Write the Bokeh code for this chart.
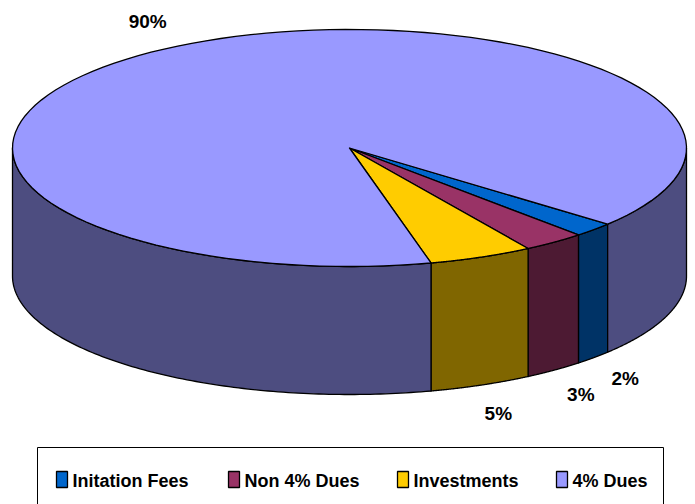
import numpy as np
from bokeh.plotting import figure
from bokeh.models import Range1d
from bokeh.core.properties import value
from bokeh.embed import file_html
from bokeh.resources import INLINE

# ---- data ----
categories = ["Initation Fees", "Non 4% Dues", "Investments", "4% Dues"]
values = [2, 3, 5, 90]
pct_labels = ["2%", "3%", "5%", "90%"]
top_colors = ["#0066CC", "#993366", "#FFCC00", "#9999FF"]
side_colors = ["#003366", "#4D1A33", "#806600", "#4D4D80"]

# ---- geometry / layout ----
W, H = 695, 504
CX, CY = 349.0, 147.5
RX, RY = 337.0, 118.5
DEPTH = 128.0
START = 40.0
FONT = value("Liberation Sans")

total = float(sum(values))
edges = START + 360.0 * np.concatenate([[0], np.cumsum(values)]) / total


def arc(a0, a1, dy=0.0, n=120):
    t = np.radians(np.linspace(a0, a1, n))
    return list(CX + RX * np.cos(t)), list(CY + dy + RY * np.sin(t))


p = figure(width=W, height=H, x_range=Range1d(0, W), y_range=Range1d(H, 0),
           x_axis_type=None, y_axis_type=None, toolbar_location=None,
           output_backend="svg", min_border=0)
p.outline_line_color = None
p.grid.visible = False
p.background_fill_color = "white"

# side walls
sx, sy, sc = [], [], []
for i in range(len(values)):
    a0, a1 = edges[i], edges[i + 1]
    for k in (0.0, 360.0):
        lo, hi = max(a0, k), min(a1, k + 180.0)
        if hi > lo:
            tx, ty = arc(lo, hi)
            bx, by = arc(hi, lo, DEPTH)
            sx.append(tx + bx)
            sy.append(ty + by)
            sc.append(side_colors[i])
p.patches(xs=sx, ys=sy, fill_color=sc, line_color="black", line_width=1.3, line_join="round")

# top wedges
wx, wy = [], []
for i in range(len(values)):
    tx, ty = arc(edges[i], edges[i + 1])
    wx.append([CX] + tx)
    wy.append([CY] + ty)
p.patches(xs=wx, ys=wy, fill_color=top_colors, line_color="black", line_width=1.3, line_join="round")

# percentage labels
mids = np.radians((edges[:-1] + edges[1:]) / 2.0)
lx = CX + 1.13 * RX * np.cos(mids)
ly = CY + 1.26 * RY * np.sin(mids) + np.where(np.sin(mids) > 0, DEPTH, 0.0)
p.text(x=list(lx), y=list(ly), text=pct_labels, text_font=FONT, text_font_style="bold",
       text_font_size="19px", text_align="center", text_baseline="middle", text_color="black")

# legend (manual)
LEG_L, LEG_R, LEG_T, LEG_B = 37, 663, 447, 530
p.quad(left=[LEG_L], right=[LEG_R], top=[LEG_T], bottom=[LEG_B], fill_color="white",
       line_color="black", line_width=1)
legend_x = [56, 228, 397, 556]
sw = 11
p.quad(left=legend_x, right=[x + sw for x in legend_x], top=[471] * 4, bottom=[487] * 4,
       fill_color=top_colors, line_color="black", line_width=1.3)
p.text(x=[x + sw + 5 for x in legend_x], y=[480] * 4, text=categories, text_font=FONT,
       text_font_style="bold", text_font_size="18px", text_align="left",
       text_baseline="middle", text_color="black")

open("out.html", "w").write(file_html(p, INLINE))
